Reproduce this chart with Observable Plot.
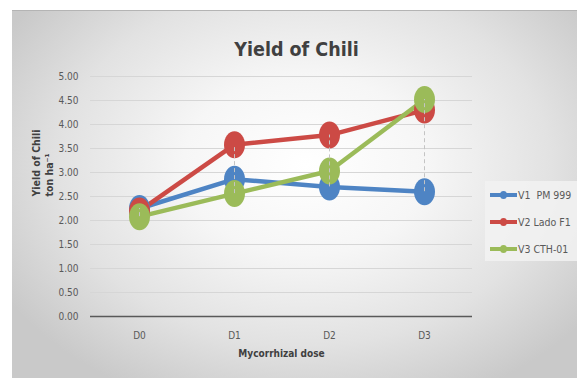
<!DOCTYPE html>
<html>
<head>
<meta charset="utf-8">
<script src="https://cdn.jsdelivr.net/npm/d3@7"></script>
<script src="https://cdn.jsdelivr.net/npm/@observablehq/plot@0.6"></script>
<style>
  html, body { margin: 0; padding: 0; background: #ffffff; }
  #wrap { position: relative; width: 577px; height: 378px; overflow: hidden; }
  #bg { position: absolute; left: 12px; top: 10px; right: 0; bottom: 0;
        background: radial-gradient(ellipse 62% 70% at 52% 42%, #ffffff 0%, #f6f6f6 35%, #e2e2e2 70%, #c9c9c9 100%);
        border-top: 1px solid #b4b4b4; }
  #chart { position: absolute; left: 0; top: 0; }
  #legend { position: absolute; left: 485px; top: 181px; width: 92px; height: 80px;
            background: rgba(242,242,242,0.85);
            font-family: 'DejaVu Sans Condensed', 'DejaVu Sans', sans-serif; font-stretch: condensed; font-size: 10.5px; color: #595959; }
  .item { position: absolute; left: 5px; height: 14px; display: flex; align-items: center; white-space: pre; }
  .sw { position: relative; width: 27px; height: 4px; margin-right: 1px; }
  .sw i { position: absolute; left: 10px; top: -2px; width: 7px; height: 8px; border-radius: 50%; background: inherit; }
</style>
</head>
<body>
<div id="wrap">
  <div id="bg"></div>
  <div id="chart"></div>
  <div id="legend"></div>
</div>
<script>
const doses = ["D0", "D1", "D2", "D3"];
const seriesNames = ["V1  PM 999", "V2 Lado F1", "V3 CTH-01"];
const seriesColors = ["#4e84c4", "#cc4a45", "#9bbb59"];
const v1 = [2.25, 2.86, 2.70, 2.60];
const v2 = [2.20, 3.58, 3.78, 4.30];
const v3 = [2.08, 2.56, 3.03, 4.52];
const yTicks = [0, 0.5, 1, 1.5, 2, 2.5, 3, 3.5, 4, 4.5, 5];
const title = "Yield of Chili";
const yLabel = "Yield of Chili\nton ha\u207B\u00B9";
const xLabel = "Mycorrhizal dose";

const values = [v1, v2, v3];
const data = [];
values.forEach((arr, si) => arr.forEach((v, i) => data.push({dose: doses[i], series: seriesNames[si], value: v})));
const ranges = doses.map((d, i) => ({dose: d, lo: d3.min(values, a => a[i]), hi: d3.max(values, a => a[i])}));

const ellipse = {
  draw(ctx) {
    const rx = 10.5, ry = 13.5, k = 0.5523;
    ctx.moveTo(rx, 0);
    ctx.bezierCurveTo(rx, ry * k, rx * k, ry, 0, ry);
    ctx.bezierCurveTo(-rx * k, ry, -rx, ry * k, -rx, 0);
    ctx.bezierCurveTo(-rx, -ry * k, -rx * k, -ry, 0, -ry);
    ctx.bezierCurveTo(rx * k, -ry, rx, -ry * k, rx, 0);
    ctx.closePath();
  }
};

const font = "'DejaVu Sans Condensed', 'DejaVu Sans', sans-serif";

const chart = Plot.plot({
  width: 577,
  height: 378,
  marginLeft: 90,
  marginRight: 105,
  marginTop: 76,
  marginBottom: 62,
  style: {fontFamily: font, fontStretch: "condensed", background: "transparent", overflow: "visible"},
  x: {type: "point", domain: doses, padding: 0.5},
  y: {domain: [0, 5]},
  color: {domain: seriesNames, range: seriesColors},
  marks: [
    Plot.ruleY(yTicks.filter(t => t > 0), {y: d => d, stroke: "#d6d6d6", strokeWidth: 1}),
    Plot.ruleY([0], {stroke: "#595959", strokeWidth: 1.6}),
    Plot.axisY(yTicks, {tickSize: 0, tickPadding: 12, tickFormat: d => d.toFixed(2), label: null, fontSize: 10, fill: "#595959"}),
    Plot.axisX({tickSize: 0, tickPadding: 15, label: null, fontSize: 10, fill: "#595959"}),
    Plot.line(data, {x: "dose", y: "value", z: "series", stroke: "series", strokeWidth: 4.5}),
    Plot.dot(data, {x: "dose", y: "value", fill: "series", symbol: ellipse, stroke: "none"}),
    Plot.ruleX(ranges, {x: "dose", y1: "lo", y2: "hi", stroke: "#c4c4c4", strokeWidth: 1, strokeDasharray: "4,3"}),
    Plot.text([title], {frameAnchor: "top", dy: -34, fontSize: 19.5, fontWeight: "bold", fill: "#404040", dx: 15}),
    Plot.text([yLabel], {frameAnchor: "left", dx: -48, rotate: -90, fontSize: 10.5, fontWeight: "bold", fill: "#404040", lineHeight: 1.2}),
    Plot.text([xLabel], {frameAnchor: "bottom", dy: 40, fontSize: 10, fontWeight: "bold", fill: "#404040"})
  ]
});
document.getElementById("chart").appendChild(chart);

const legend = document.getElementById("legend");
seriesNames.forEach((name, i) => {
  const item = document.createElement("div");
  item.className = "item";
  item.style.top = (7 + i * 27) + "px";
  const sw = document.createElement("span");
  sw.className = "sw";
  sw.style.background = seriesColors[i];
  sw.appendChild(document.createElement("i"));
  item.appendChild(sw);
  item.appendChild(document.createTextNode(name));
  legend.appendChild(item);
});
</script>
</body>
</html>
